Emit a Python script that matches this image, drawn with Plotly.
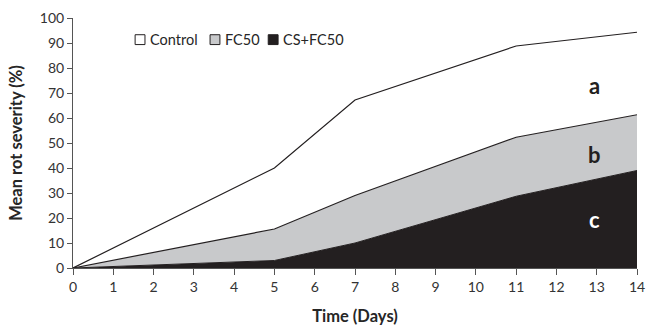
import plotly.graph_objects as go

days = [0, 5, 7, 11, 14]
control = [0, 40, 67.2, 88.8, 94.3]
fc50 = [0, 15.6, 29, 52.3, 61.3]
csfc50 = [0, 3, 10, 28.7, 39]
series_names = ["Control", "FC50", "CS+FC50"]
series_colors = ["#ffffff", "#c8c9cb", "#231f20"]
letters = ["a", "b", "c"]
letter_x = [12.95, 12.95, 12.95]
letter_y = [73, 45.5, 19.5]
letter_colors = ["#231f20", "#231f20", "#ffffff"]

font_family = "Lato, 'Open Sans', sans-serif"
txt = "#262626"
fig = go.Figure()

fig.add_trace(go.Scatter(x=days, y=csfc50, mode="lines", fill="tozeroy", name=series_names[2],
                         fillcolor=series_colors[2], line=dict(color="#231f20", width=1),
                         showlegend=False, hoverinfo="skip"))
fig.add_trace(go.Scatter(x=days, y=fc50, mode="lines", fill="tonexty", name=series_names[1],
                         fillcolor=series_colors[1], line=dict(color="#231f20", width=1.2),
                         showlegend=False, hoverinfo="skip"))
fig.add_trace(go.Scatter(x=days, y=control, mode="lines", fill="tonexty", name=series_names[0],
                         fillcolor=series_colors[0], line=dict(color="#231f20", width=1.2),
                         showlegend=False, hoverinfo="skip"))

# legend built from boxes + labels (pixel positions converted to paper coords)
L, R, T, B = 73, 645, 15, 269
def px_x(p):
    return (p - L) / (R - L)
def px_y(p):
    return (B - p) / (B - T)

legend_box_px = [136, 212, 271]
legend_y_px = 37
for name, col, bx in zip(series_names, series_colors, legend_box_px):
    fig.add_shape(type="rect", xref="paper", yref="paper",
                  x0=px_x(bx), x1=px_x(bx + 10), y0=px_y(legend_y_px + 5), y1=px_y(legend_y_px - 5),
                  fillcolor=col, line=dict(color="#231f20", width=1))
    fig.add_annotation(xref="paper", yref="paper", x=px_x(bx + 13), y=px_y(legend_y_px),
                       text=name, showarrow=False, xanchor="left", yanchor="middle",
                       font=dict(family=font_family, size=14.5, color=txt))

for t, xx, yy, c in zip(letters, letter_x, letter_y, letter_colors):
    fig.add_annotation(x=xx, y=yy, text=f"<b>{t}</b>", showarrow=False,
                       font=dict(family=font_family, size=22, color=c))

fig.update_layout(
    width=654, height=331,
    margin=dict(l=L, r=654 - R, t=T, b=331 - B),
    paper_bgcolor="white", plot_bgcolor="white",
    font=dict(family=font_family, size=13, color=txt),
    showlegend=False,
    xaxis=dict(range=[0, 14], tickmode="linear", dtick=1, ticks="outside", ticklen=6,
               tickcolor="#555555", showline=True, linecolor="#555555", linewidth=1,
               showgrid=False, zeroline=False,
               title=dict(text="<b>Time (Days)</b>", font=dict(size=16.5, color=txt), standoff=16),
               tickfont=dict(size=14, color="#333333")),
    yaxis=dict(range=[0, 100], tickmode="linear", dtick=10, ticks="outside", ticklen=5,
               tickcolor="#555555", showline=True, linecolor="#555555", linewidth=1,
               showgrid=False, zeroline=False,
               title=dict(text="<b>Mean rot severity (%)</b>", font=dict(size=16.5, color=txt), standoff=13),
               tickfont=dict(size=14, color="#333333")),
)

fig.write_html("out.html")
